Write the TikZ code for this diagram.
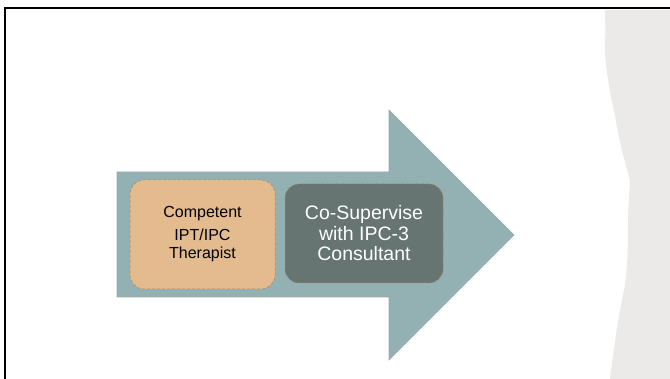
\documentclass[tikz,border=0pt]{standalone}
\usepackage{fontspec}
\setmainfont{Liberation Sans}
\definecolor{arrowfill}{HTML}{93B1B2}
\definecolor{arrowline}{HTML}{A3A8A6}
\definecolor{orangefill}{HTML}{E3BB8F}
\definecolor{darkfill}{HTML}{667472}
\definecolor{dashline}{HTML}{A88460}
\definecolor{paper}{HTML}{EBEAE9}
\begin{document}
\begin{tikzpicture}[x=1pt,y=-1pt,
  boxstyle/.style={rounded corners=14pt, draw=dashline, densely dashed, line width=0.5pt, inner sep=0pt, align=center}]
\useasboundingbox (0,0) rectangle (670,379);
\fill[white] (0,0) rectangle (670,379);
% torn paper on the right
\fill[paper] (605,10) -- (670,10) -- (670,379) -- (610,379)
  .. controls (612,360) and (614,350) .. (616,335)
  .. controls (618,320) and (622,300) .. (624,290)
  .. controls (628,270) and (628,240) .. (628,215)
  .. controls (629,195) and (630,185) .. (630,180)
  .. controls (624,160) and (618,135) .. (615,115)
  .. controls (610,95) and (604,60) .. (605,40)
  .. controls (606,30) and (605,20) .. (605,10) -- cycle;
% slide frame
\draw[black, line width=2.2pt] (5,390) -- (5,8) -- (680,8);
% big arrow
\draw[fill=arrowfill, draw=arrowline, line width=0.6pt]
  (117,172) -- (389,172) -- (389,110) -- (514,235) -- (389,360) -- (389,297) -- (117,297) -- cycle;
% boxes
\node[boxstyle, fill=orangefill, minimum width=145pt, minimum height=109pt, font=\fontsize{16}{18}\selectfont] (comp) at (202.5,234.5) {Competent\\[5pt]IPT/IPC\\Therapist};
\node[boxstyle, fill=darkfill, text=white, minimum width=158pt, minimum height=99pt, font=\fontsize{19.5}{20.5}\selectfont] (cosup) at (364,233.5) {Co-Supervise\\with IPC-3\\Consultant};
\end{tikzpicture}
\end{document}
